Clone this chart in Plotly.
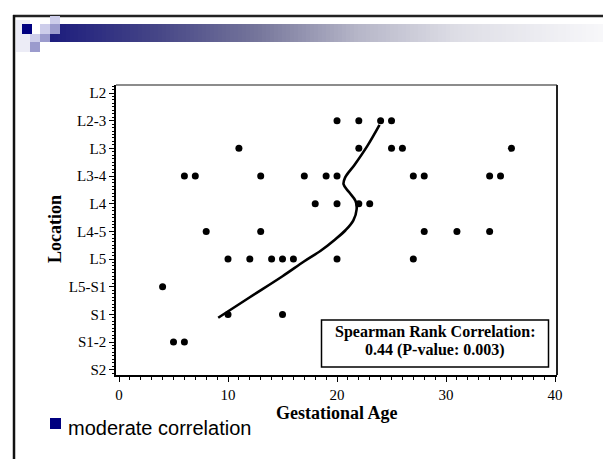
import plotly.graph_objects as go

# ---------------- data ----------------
locations = ["L2", "L2-3", "L3", "L3-4", "L4", "L4-5", "L5", "L5-S1", "S1", "S1-2", "S2"]

age_L2_3 = [20, 22, 24, 25]
age_L3 = [11, 22, 25, 26, 36]
age_L3_4 = [6, 7, 13, 17, 19, 20, 27, 28, 34, 35]
age_L4 = [18, 20, 22, 23]
age_L4_5 = [8, 13, 28, 31, 34]
age_L5 = [10, 12, 14, 15, 16, 20, 27]
age_L5_S1 = [4]
age_S1 = [10, 15]
age_S1_2 = [5, 6]

groups = {"L2-3": age_L2_3, "L3": age_L3, "L3-4": age_L3_4, "L4": age_L4,
          "L4-5": age_L4_5, "L5": age_L5, "L5-S1": age_L5_S1, "S1": age_S1,
          "S1-2": age_S1_2}

# smoothed (loess) curve: age, location index
fit_age = [9.1, 12.0, 15.0, 17.0, 18.5, 19.8, 20.8, 21.5, 21.8, 21.7, 21.1, 20.6, 20.75, 21.6, 22.8, 23.9]
fit_loc = [8.12, 7.38, 6.62, 6.08, 5.7, 5.3, 4.95, 4.6, 4.2, 3.9, 3.58, 3.3, 3.05, 2.6, 1.9, 1.15]

x_ticks = [0, 10, 20, 30, 40]
stat_lines = ["Spearman Rank Correlation:", "0.44 (P-value: 0.003)"]
bullet_text = "moderate correlation"
x_title = "Gestational Age"
y_title = "Location"

# ---------------- layout geometry ----------------
W, H = 611, 459
L, R, T, B = 108, 62, 77, 92
PW, PH = W - L - R, H - T - B


def px(x):
    return (x - L) / PW


def py(y):
    return 1 - (y - T) / PH


xs, ys = [], []
for loc, ages in groups.items():
    idx = locations.index(loc)
    for a in ages:
        xs.append(a)
        ys.append(idx)

fig = go.Figure()
fig.add_trace(go.Scatter(x=xs, y=ys, mode="markers",
                         marker=dict(color="black", size=7, symbol="circle"),
                         showlegend=False, hoverinfo="skip"))
fig.add_trace(go.Scatter(x=fit_age, y=fit_loc, mode="lines",
                         line=dict(color="black", width=2.6, shape="spline", smoothing=1.0),
                         showlegend=False, hoverinfo="skip"))

serif = "Liberation Serif, Times New Roman, serif"

shapes = []
# slide border
shapes.append(dict(type="line", xref="paper", yref="paper", x0=px(5), x1=px(611), y0=py(8), y1=py(8),
                   line=dict(color="#222222", width=2.5), layer="above"))
shapes.append(dict(type="line", xref="paper", yref="paper", x0=px(6), x1=px(6), y0=py(7), y1=py(459),
                   line=dict(color="#111111", width=2.5), layer="above"))

# gradient title band
stops = [(42, (28, 28, 125)), (150, (70, 70, 135)), (250, (118, 118, 155)),
         (350, (182, 182, 200)), (450, (222, 222, 230)), (611, (250, 250, 252))]


def band_color(x):
    for (xa, ca), (xb, cb) in zip(stops[:-1], stops[1:]):
        if xa <= x <= xb:
            t = (x - xa) / (xb - xa)
            c = [round(ca[i] + t * (cb[i] - ca[i])) for i in range(3)]
            return "rgb(%d,%d,%d)" % tuple(c)
    return "rgb(250,250,252)"


step = 4
xpos = 42
while xpos < 611:
    shapes.append(dict(type="rect", xref="paper", yref="paper", x0=px(xpos), x1=px(min(xpos + step + 0.6, 611)),
                       y0=py(34), y1=py(16), fillcolor=band_color(xpos + step / 2),
                       line=dict(width=0), layer="above"))
    xpos += step

# decorative squares
light = "#cdcdea"
mid = "#9b9bcd"
for (x0, y0, x1, y1, col) in [
    (8, 12, 22, 44, "#ececf6"),
    (14, 16, 24, 26, "#000080"),
    (32, 16, 42, 26, light),
    (42, 8, 52, 16, light),
    (42, 16, 52, 26, mid),
    (22, 26, 32, 34, light),
    (32, 26, 42, 34, mid),
    (22, 34, 32, 44, mid),
]:
    shapes.append(dict(type="rect", xref="paper", yref="paper", x0=px(x0), x1=px(x1),
                       y0=py(y1), y1=py(y0), fillcolor=col, line=dict(width=0), layer="above"))

# plot frame: top (gray) and right (dark)
shapes.append(dict(type="line", xref="paper", yref="paper", x0=0, x1=1, y0=1, y1=1,
                   line=dict(color="#666666", width=1.5)))
shapes.append(dict(type="line", xref="paper", yref="paper", x0=1, x1=1, y0=0, y1=1,
                   line=dict(color="#222222", width=2)))

# statistics box
shapes.append(dict(type="rect", xref="paper", yref="paper", x0=px(313.5), x1=px(540.5),
                   y0=py(359), y1=py(312), line=dict(color="black", width=1.5), fillcolor="white"))

# bullet square
shapes.append(dict(type="rect", xref="paper", yref="paper", x0=px(42), x1=px(53),
                   y0=py(421), y1=py(410), fillcolor="#000080", line=dict(width=0)))

annotations = [
    dict(text="<b>%s</b>" % stat_lines[0], xref="paper", yref="paper", x=px(427), y=py(324),
         showarrow=False, font=dict(family=serif, size=16, color="black"), xanchor="center", yanchor="middle"),
    dict(text="<b>%s</b>" % stat_lines[1], xref="paper", yref="paper", x=px(427), y=py(342),
         showarrow=False, font=dict(family=serif, size=16, color="black"), xanchor="center", yanchor="middle"),
    dict(text="<b>%s</b>" % x_title, xref="paper", yref="paper", x=0.5, y=py(405),
         showarrow=False, font=dict(family=serif, size=18, color="black"), xanchor="center", yanchor="middle"),
    dict(text="<b>%s</b>" % y_title, xref="paper", yref="paper", x=px(47), y=py(221), textangle=-90,
         showarrow=False, font=dict(family=serif, size=18, color="black"), xanchor="center", yanchor="middle"),
    dict(text=bullet_text, xref="paper", yref="paper", x=px(58), y=py(420),
         showarrow=False, font=dict(family="Liberation Sans, Arial, sans-serif", size=20, color="black"),
         xanchor="left", yanchor="middle"),
]

fig.update_layout(
    width=W, height=H,
    margin=dict(l=L, r=R, t=T, b=B, pad=0),
    paper_bgcolor="white", plot_bgcolor="white",
    shapes=shapes, annotations=annotations,
    xaxis=dict(range=[-0.275, 40.18], tickvals=x_ticks, ticks="outside", ticklen=5, tickwidth=1,
               tickcolor="black", showline=True, linecolor="black", linewidth=1.5,
               showgrid=False, zeroline=False,
               minor=dict(dtick=1, ticks="outside", ticklen=3, tickcolor="black", showgrid=False),
               tickfont=dict(family=serif, size=15, color="black")),
    yaxis=dict(range=[10.19, -0.29], tickvals=list(range(len(locations))), ticktext=locations,
               ticks="outside", ticklen=5, tickwidth=1, tickcolor="black",
               showline=True, linecolor="black", linewidth=1.5,
               showgrid=False, zeroline=False,
               minor=dict(dtick=0.125, ticks="outside", ticklen=2, tickcolor="black", showgrid=False),
               tickfont=dict(family=serif, size=15, color="black")),
)

fig.write_html("out.html")
